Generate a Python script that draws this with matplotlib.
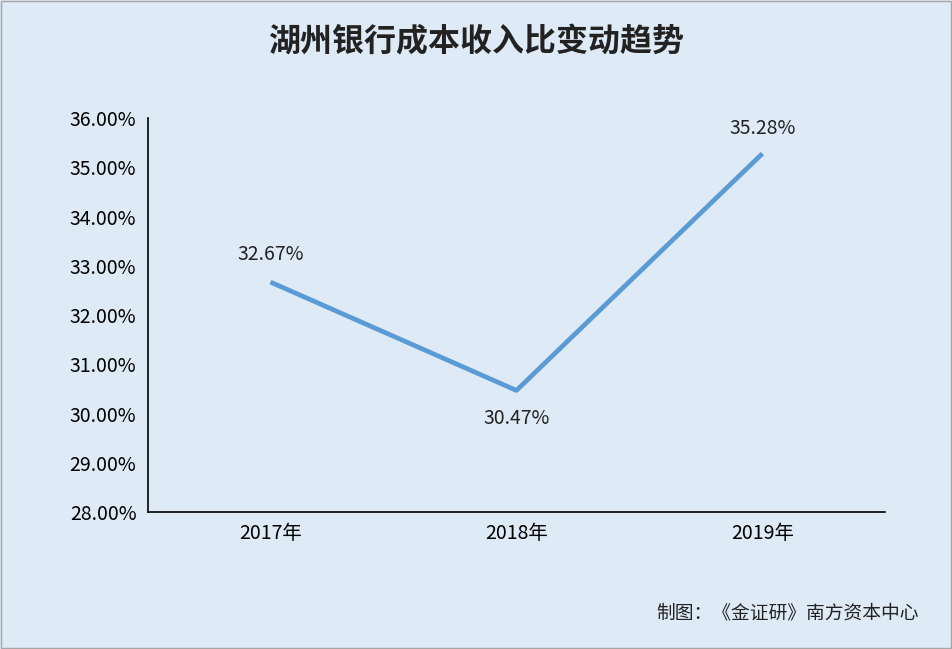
import matplotlib

matplotlib.use("Agg")
import matplotlib.pyplot as plt

plt.rcParams["font.family"] = ["Noto Sans CJK SC", "DejaVu Sans"]

years = ["2017年", "2018年", "2019年"]
ratios = [32.67, 30.47, 35.28]
y_ticks = [28, 29, 30, 31, 32, 33, 34, 35, 36]

BG = "#DEEAF6"
LINE = "#5B9BD5"

fig = plt.figure(figsize=(9.52, 6.49), dpi=100, facecolor=BG)
ax = fig.add_axes([0.155, 0.211, 0.775, 0.607], facecolor=BG)

x = list(range(len(years)))
ax.plot(x, ratios, color=LINE, linewidth=3.4, solid_capstyle="butt")
offsets = [20, -20, 18]
for xi, v, off in zip(x, ratios, offsets):
    ax.annotate(f"{v:.2f}%", (xi, v), xytext=(0, off), textcoords="offset points",
                ha="center", va="center", fontsize=14, color="#222222")

ax.set_xlim(-0.5, 2.5)
ax.set_ylim(28, 36)
ax.set_xticks(x)
ax.set_xticklabels(years, fontsize=14)
ax.set_yticks(y_ticks)
ax.set_yticklabels([f"{t:.2f}%" for t in y_ticks], fontsize=14)
ax.tick_params(length=0, pad=8)
for side in ("top", "right"):
    ax.spines[side].set_visible(False)
for side in ("left", "bottom"):
    ax.spines[side].set_color("black")
    ax.spines[side].set_linewidth(1.2)

fig.text(0.5, 0.935, "湖州银行成本收入比变动趋势", ha="center", va="center",
         fontsize=23, fontweight="bold", color="#222222")
fig.text(0.965, 0.055, "制图：《金证研》南方资本中心", ha="right", va="center",
         fontsize=13.5, color="#222222")

border = plt.Rectangle((0.001, 0.001), 0.998, 0.998, transform=fig.transFigure,
                       fill=False, edgecolor="#A6A6A6", linewidth=1)
fig.patches.append(border)

fig.savefig("out.png", dpi=100, facecolor=BG)
